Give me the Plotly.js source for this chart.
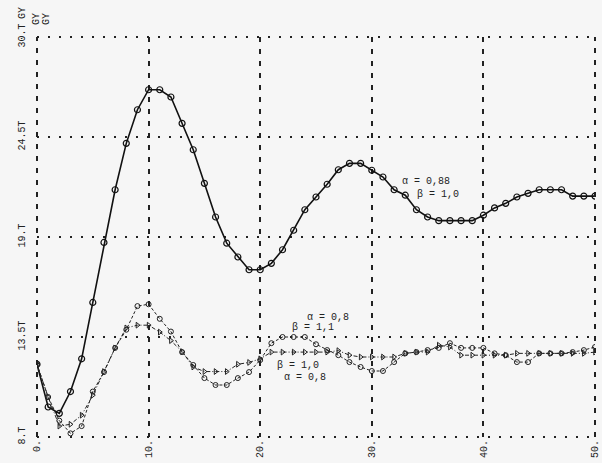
<!DOCTYPE html>
<html>
<head>
<meta charset="utf-8">
<script src="https://cdn.plot.ly/plotly-3.0.1.min.js"></script>
<style>
html,body{margin:0;padding:0;background:#f6f6f6;}
#chart{width:602px;height:463px;}
</style>
</head>
<body>
<div id="chart"></div>
<script>
// x positions (time steps)
const xValues = [0,1,2,3,4,5,6,7,8,9,10,11,12,13,14,15,16,17,18,19,20,21,22,23,24,25,26,27,28,29,30,31,32,33,34,35,36,37,38,39,40,41,42,43,44,45,46,47,48,49,50];

// alpha = 0,88 ; beta = 1,0
const seriesA088B10 = [12.0,9.65,9.3,10.5,12.3,15.4,18.7,21.6,24.15,26.0,27.1,27.1,26.7,25.25,23.8,21.95,20.1,18.66,17.9,17.2,17.2,17.55,18.3,19.37,20.5,21.2,21.9,22.7,23.05,23.05,22.67,22.3,21.6,21.3,20.5,20.1,19.9,19.9,19.9,19.9,20.2,20.6,20.85,21.2,21.4,21.6,21.6,21.6,21.25,21.25,21.25];

// alpha = 0,8 ; beta = 1,1 (circles)
const seriesA08B11 = [12.0,10.2,8.9,8.2,8.6,10.5,11.57,12.9,13.9,15.2,15.3,14.5,13.8,12.67,11.96,11.24,10.86,10.86,11.24,11.57,12.23,13.16,13.5,13.5,13.5,13.1,12.78,12.5,12.12,11.85,11.63,11.63,12.12,12.6,12.67,12.78,12.9,13.16,12.9,12.9,12.9,12.6,12.5,12.12,12.12,12.6,12.6,12.6,12.67,12.78,12.95];

// alpha = 0,8 ; beta = 1,0 (arrows)
const seriesA08B10 = [12.0,10.2,8.6,8.7,9.2,10.3,11.6,12.9,14.0,14.15,14.15,13.77,13.3,12.7,11.85,11.6,11.6,11.6,12.0,12.1,12.3,12.67,12.67,12.67,12.67,12.67,12.67,12.75,12.5,12.4,12.4,12.4,12.4,12.6,12.67,12.67,13.05,12.95,12.5,12.5,12.5,12.5,12.5,12.6,12.6,12.6,12.6,12.6,12.6,12.6,12.67];

const xTickVals = [0,10,20,30,40,50];
const xTickText = ["0.","10.","20.","30.","40.","50."];
const yTickVals = [8,13.5,19,24.5,30];
const yTickText = ["8.T","13.5T","19.T","24.5T","30.T"];

const mono = "Liberation Mono, DejaVu Sans Mono, monospace";
const ink = "#222";

const traces = [
  {x:xValues, y:seriesA088B10, type:"scatter", mode:"lines+markers",
   line:{color:"#111", width:1.6},
   marker:{symbol:"circle-open", size:6, color:"#111", line:{width:1.2}}},
  {x:xValues, y:seriesA08B11, type:"scatter", mode:"lines+markers",
   line:{color:ink, width:1, dash:"3px,2px"},
   marker:{symbol:"circle-open", size:5, color:ink, line:{width:1}}},
  {x:xValues, y:seriesA08B10, type:"scatter", mode:"lines+markers",
   line:{color:ink, width:1, dash:"4px,2px,1px,2px"},
   marker:{symbol:"triangle-right-open", size:5, color:ink, line:{width:1}}}
];

function ann(x, y, text){
  return {x:x, y:y, text:text, showarrow:false, font:{family:mono,size:10,color:ink}};
}
function gy(x, y){
  return {xref:"paper", yref:"paper", x:x, y:y, xanchor:"center", yanchor:"middle",
          text:"GY", textangle:-90, showarrow:false, font:{family:mono,size:10,color:ink}};
}

const layout = {
  width:602, height:463,
  margin:{l:37, r:7, t:37, b:26, pad:0},
  paper_bgcolor:"#f6f6f6", plot_bgcolor:"#f6f6f6",
  showlegend:false,
  font:{family:mono, size:10, color:ink},
  xaxis:{range:[0,50], tickvals:xTickVals, ticktext:xTickText, tickangle:-90,
         showgrid:true, gridcolor:ink, gridwidth:2, griddash:"5px,7px",
         zeroline:false, showline:false, ticks:"", automargin:false,
         tickfont:{family:mono, size:10, color:ink}},
  yaxis:{range:[8,30], tickvals:yTickVals, ticktext:yTickText, tickangle:-90,
         showgrid:true, gridcolor:ink, gridwidth:2, griddash:"2px,9px",
         zeroline:false, showline:false, ticks:"", automargin:false,
         ticklabelstandoff:9,
         tickfont:{family:mono, size:10, color:ink}},
  shapes:[
    {type:"line", xref:"paper", yref:"paper", x0:0, x1:0, y0:0, y1:1, line:{color:ink, width:2, dash:"5px,7px"}},
    {type:"line", xref:"paper", yref:"paper", x0:1, x1:1, y0:0, y1:1, line:{color:ink, width:2, dash:"5px,7px"}},
    {type:"line", xref:"paper", yref:"paper", x0:0, x1:1, y0:1, y1:1, line:{color:ink, width:2, dash:"2px,9px"}},
    {type:"line", xref:"paper", yref:"paper", x0:0, x1:1, y0:0, y1:0, line:{color:ink, width:2, dash:"2px,9px"}}
  ],
  annotations:[
    gy(-0.025, 1.06),
    gy(-0.002, 1.045),
    gy(0.016, 1.045),
    ann(34.9, 22.05, "α = 0,88"),
    ann(35.9, 21.35, "β = 1,0"),
    ann(26.1, 14.55, "α = 0,8"),
    ann(24.7, 14.0, "β = 1,1"),
    ann(23.4, 11.96, "β = 1,0"),
    ann(24.0, 11.3, "α = 0,8")
  ]
};

Plotly.newPlot("chart", traces, layout, {staticPlot:true, displayModeBar:false});
</script>
</body>
</html>
